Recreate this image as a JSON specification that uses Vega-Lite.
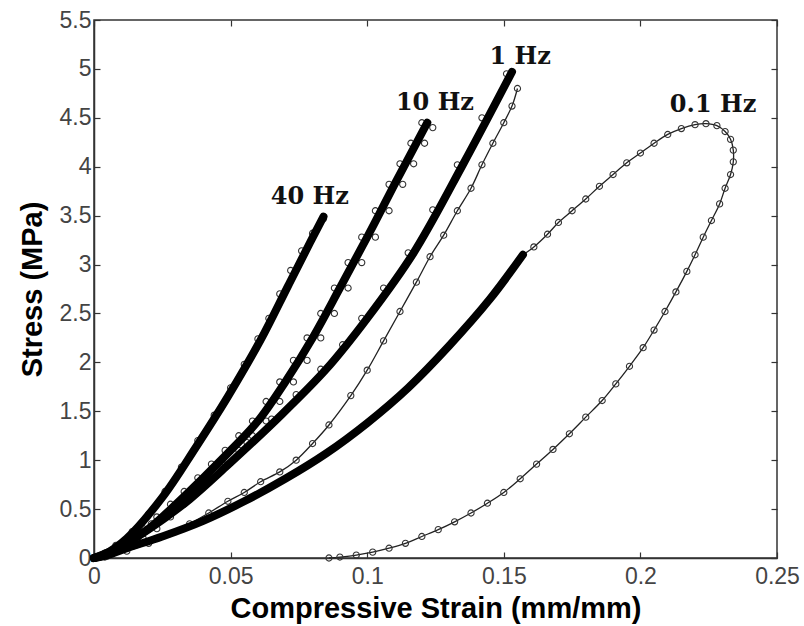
{
  "$schema": "https://vega.github.io/schema/vega-lite/v6.json",
  "width": 683,
  "height": 538,
  "autosize": {"type": "none"},
  "padding": {"left": 94, "top": 20, "right": 27, "bottom": 68},
  "background": "white",
  "config": {
    "view": {"stroke": "#333", "strokeWidth": 1.5},
    "axis": {
      "grid": false,
      "labelFlush": false,
      "domainColor": "#333",
      "domainWidth": 1.5,
      "tickColor": "#333",
      "tickWidth": 1.2,
      "labelFont": "Liberation Sans",
      "labelFontSize": 23,
      "labelColor": "#444",
      "titleFont": "Liberation Sans",
      "titleFontSize": 29,
      "titleFontWeight": "bold",
      "titleColor": "#000"
    }
  },
  "datasets": {
    "model": [
      {"series": "40", "i": 0, "strain": 0, "stress": 0},
      {"series": "40", "i": 1, "strain": 0.004, "stress": 0.04},
      {"series": "40", "i": 2, "strain": 0.012, "stress": 0.2},
      {"series": "40", "i": 3, "strain": 0.025, "stress": 0.62},
      {"series": "40", "i": 4, "strain": 0.037, "stress": 1.12},
      {"series": "40", "i": 5, "strain": 0.049, "stress": 1.65},
      {"series": "40", "i": 6, "strain": 0.061, "stress": 2.23},
      {"series": "40", "i": 7, "strain": 0.071, "stress": 2.78},
      {"series": "40", "i": 8, "strain": 0.079, "stress": 3.22},
      {"series": "40", "i": 9, "strain": 0.084, "stress": 3.49},
      {"series": "10", "i": 0, "strain": 0, "stress": 0},
      {"series": "10", "i": 1, "strain": 0.01, "stress": 0.12},
      {"series": "10", "i": 2, "strain": 0.02, "stress": 0.3},
      {"series": "10", "i": 3, "strain": 0.03, "stress": 0.55},
      {"series": "10", "i": 4, "strain": 0.04, "stress": 0.82},
      {"series": "10", "i": 5, "strain": 0.05, "stress": 1.1},
      {"series": "10", "i": 6, "strain": 0.06, "stress": 1.4},
      {"series": "10", "i": 7, "strain": 0.07, "stress": 1.8},
      {"series": "10", "i": 8, "strain": 0.08, "stress": 2.25},
      {"series": "10", "i": 9, "strain": 0.09, "stress": 2.76},
      {"series": "10", "i": 10, "strain": 0.1, "stress": 3.28},
      {"series": "10", "i": 11, "strain": 0.11, "stress": 3.82},
      {"series": "10", "i": 12, "strain": 0.122, "stress": 4.45},
      {"series": "1", "i": 0, "strain": 0, "stress": 0},
      {"series": "1", "i": 1, "strain": 0.004, "stress": 0.03},
      {"series": "1", "i": 2, "strain": 0.012, "stress": 0.15},
      {"series": "1", "i": 3, "strain": 0.023, "stress": 0.35},
      {"series": "1", "i": 4, "strain": 0.035, "stress": 0.6},
      {"series": "1", "i": 5, "strain": 0.049, "stress": 0.95},
      {"series": "1", "i": 6, "strain": 0.067, "stress": 1.42},
      {"series": "1", "i": 7, "strain": 0.085, "stress": 1.93},
      {"series": "1", "i": 8, "strain": 0.1, "stress": 2.45},
      {"series": "1", "i": 9, "strain": 0.117, "stress": 3.12},
      {"series": "1", "i": 10, "strain": 0.135, "stress": 4.02},
      {"series": "1", "i": 11, "strain": 0.153, "stress": 4.97},
      {"series": "0.1", "i": 0, "strain": 0, "stress": 0},
      {"series": "0.1", "i": 1, "strain": 0.005, "stress": 0.03},
      {"series": "0.1", "i": 2, "strain": 0.012, "stress": 0.1},
      {"series": "0.1", "i": 3, "strain": 0.025, "stress": 0.22},
      {"series": "0.1", "i": 4, "strain": 0.04, "stress": 0.38},
      {"series": "0.1", "i": 5, "strain": 0.055, "stress": 0.58},
      {"series": "0.1", "i": 6, "strain": 0.07, "stress": 0.81},
      {"series": "0.1", "i": 7, "strain": 0.085, "stress": 1.07},
      {"series": "0.1", "i": 8, "strain": 0.1, "stress": 1.38},
      {"series": "0.1", "i": 9, "strain": 0.115, "stress": 1.74},
      {"series": "0.1", "i": 10, "strain": 0.13, "stress": 2.17},
      {"series": "0.1", "i": 11, "strain": 0.145, "stress": 2.65},
      {"series": "0.1", "i": 12, "strain": 0.157, "stress": 3.1}
    ],
    "exp": [
      {"series": "40e", "i": 0, "strain": 0.002, "stress": 0.02},
      {"series": "40e", "i": 1, "strain": 0.008, "stress": 0.13},
      {"series": "40e", "i": 2, "strain": 0.014, "stress": 0.27},
      {"series": "40e", "i": 3, "strain": 0.02, "stress": 0.45},
      {"series": "40e", "i": 4, "strain": 0.026, "stress": 0.68},
      {"series": "40e", "i": 5, "strain": 0.032, "stress": 0.93},
      {"series": "40e", "i": 6, "strain": 0.038, "stress": 1.2},
      {"series": "40e", "i": 7, "strain": 0.044, "stress": 1.46},
      {"series": "40e", "i": 8, "strain": 0.05, "stress": 1.74},
      {"series": "40e", "i": 9, "strain": 0.055, "stress": 1.98},
      {"series": "40e", "i": 10, "strain": 0.06, "stress": 2.24},
      {"series": "40e", "i": 11, "strain": 0.064, "stress": 2.45},
      {"series": "40e", "i": 12, "strain": 0.068, "stress": 2.7},
      {"series": "40e", "i": 13, "strain": 0.072, "stress": 2.94},
      {"series": "40e", "i": 14, "strain": 0.076, "stress": 3.14},
      {"series": "40e", "i": 15, "strain": 0.08, "stress": 3.32},
      {"series": "40e", "i": 16, "strain": 0.084, "stress": 3.47},
      {"series": "10u", "i": 0, "strain": 0.004, "stress": 0.05},
      {"series": "10u", "i": 1, "strain": 0.008, "stress": 0.12},
      {"series": "10u", "i": 2, "strain": 0.013, "stress": 0.2},
      {"series": "10u", "i": 3, "strain": 0.018, "stress": 0.3},
      {"series": "10u", "i": 4, "strain": 0.023, "stress": 0.42},
      {"series": "10u", "i": 5, "strain": 0.028, "stress": 0.55},
      {"series": "10u", "i": 6, "strain": 0.033, "stress": 0.68},
      {"series": "10u", "i": 7, "strain": 0.038, "stress": 0.82},
      {"series": "10u", "i": 8, "strain": 0.043, "stress": 0.96},
      {"series": "10u", "i": 9, "strain": 0.048, "stress": 1.1},
      {"series": "10u", "i": 10, "strain": 0.053, "stress": 1.25},
      {"series": "10u", "i": 11, "strain": 0.058, "stress": 1.4},
      {"series": "10u", "i": 12, "strain": 0.063, "stress": 1.6},
      {"series": "10u", "i": 13, "strain": 0.068, "stress": 1.8},
      {"series": "10u", "i": 14, "strain": 0.073, "stress": 2.02},
      {"series": "10u", "i": 15, "strain": 0.078, "stress": 2.25},
      {"series": "10u", "i": 16, "strain": 0.083, "stress": 2.5},
      {"series": "10u", "i": 17, "strain": 0.088, "stress": 2.76},
      {"series": "10u", "i": 18, "strain": 0.093, "stress": 3.02},
      {"series": "10u", "i": 19, "strain": 0.098, "stress": 3.28},
      {"series": "10u", "i": 20, "strain": 0.103, "stress": 3.55},
      {"series": "10u", "i": 21, "strain": 0.108, "stress": 3.82},
      {"series": "10u", "i": 22, "strain": 0.112, "stress": 4.03},
      {"series": "10u", "i": 23, "strain": 0.116, "stress": 4.24},
      {"series": "10u", "i": 24, "strain": 0.12, "stress": 4.45},
      {"series": "10d", "i": 0, "strain": 0.124, "stress": 4.4},
      {"series": "10d", "i": 1, "strain": 0.121, "stress": 4.24},
      {"series": "10d", "i": 2, "strain": 0.117, "stress": 4.03},
      {"series": "10d", "i": 3, "strain": 0.113, "stress": 3.82},
      {"series": "10d", "i": 4, "strain": 0.108, "stress": 3.55},
      {"series": "10d", "i": 5, "strain": 0.103, "stress": 3.28},
      {"series": "10d", "i": 6, "strain": 0.098, "stress": 3.02},
      {"series": "10d", "i": 7, "strain": 0.093, "stress": 2.76},
      {"series": "10d", "i": 8, "strain": 0.088, "stress": 2.5},
      {"series": "10d", "i": 9, "strain": 0.083, "stress": 2.25},
      {"series": "10d", "i": 10, "strain": 0.078, "stress": 2.02},
      {"series": "10d", "i": 11, "strain": 0.073, "stress": 1.8},
      {"series": "10d", "i": 12, "strain": 0.068, "stress": 1.6},
      {"series": "10d", "i": 13, "strain": 0.063, "stress": 1.4},
      {"series": "10d", "i": 14, "strain": 0.058, "stress": 1.25},
      {"series": "10d", "i": 15, "strain": 0.053, "stress": 1.1},
      {"series": "10d", "i": 16, "strain": 0.048, "stress": 0.96},
      {"series": "10d", "i": 17, "strain": 0.043, "stress": 0.82},
      {"series": "10d", "i": 18, "strain": 0.038, "stress": 0.68},
      {"series": "10d", "i": 19, "strain": 0.033, "stress": 0.55},
      {"series": "10d", "i": 20, "strain": 0.028, "stress": 0.42},
      {"series": "10d", "i": 21, "strain": 0.023, "stress": 0.3},
      {"series": "10d", "i": 22, "strain": 0.018, "stress": 0.2},
      {"series": "10d", "i": 23, "strain": 0.012, "stress": 0.1},
      {"series": "10d", "i": 24, "strain": 0.005, "stress": 0.02},
      {"series": "1u", "i": 0, "strain": 0.01, "stress": 0.15},
      {"series": "1u", "i": 1, "strain": 0.021, "stress": 0.35},
      {"series": "1u", "i": 2, "strain": 0.033, "stress": 0.6},
      {"series": "1u", "i": 3, "strain": 0.047, "stress": 0.95},
      {"series": "1u", "i": 4, "strain": 0.056, "stress": 1.18},
      {"series": "1u", "i": 5, "strain": 0.065, "stress": 1.42},
      {"series": "1u", "i": 6, "strain": 0.074, "stress": 1.67},
      {"series": "1u", "i": 7, "strain": 0.083, "stress": 1.93},
      {"series": "1u", "i": 8, "strain": 0.091, "stress": 2.18},
      {"series": "1u", "i": 9, "strain": 0.098, "stress": 2.45},
      {"series": "1u", "i": 10, "strain": 0.106, "stress": 2.76},
      {"series": "1u", "i": 11, "strain": 0.115, "stress": 3.12},
      {"series": "1u", "i": 12, "strain": 0.124, "stress": 3.56},
      {"series": "1u", "i": 13, "strain": 0.133, "stress": 4.02},
      {"series": "1u", "i": 14, "strain": 0.142, "stress": 4.5},
      {"series": "1u", "i": 15, "strain": 0.151, "stress": 4.95},
      {"series": "1d", "i": 0, "strain": 0.155, "stress": 4.8},
      {"series": "1d", "i": 1, "strain": 0.153, "stress": 4.62},
      {"series": "1d", "i": 2, "strain": 0.15, "stress": 4.45},
      {"series": "1d", "i": 3, "strain": 0.146, "stress": 4.24},
      {"series": "1d", "i": 4, "strain": 0.142, "stress": 4.02},
      {"series": "1d", "i": 5, "strain": 0.138, "stress": 3.78},
      {"series": "1d", "i": 6, "strain": 0.133, "stress": 3.55},
      {"series": "1d", "i": 7, "strain": 0.128, "stress": 3.3},
      {"series": "1d", "i": 8, "strain": 0.123, "stress": 3.08},
      {"series": "1d", "i": 9, "strain": 0.118, "stress": 2.82},
      {"series": "1d", "i": 10, "strain": 0.112, "stress": 2.52},
      {"series": "1d", "i": 11, "strain": 0.106, "stress": 2.22},
      {"series": "1d", "i": 12, "strain": 0.1, "stress": 1.92},
      {"series": "1d", "i": 13, "strain": 0.094, "stress": 1.66},
      {"series": "1d", "i": 14, "strain": 0.086, "stress": 1.36},
      {"series": "1d", "i": 15, "strain": 0.08, "stress": 1.17},
      {"series": "1d", "i": 16, "strain": 0.074, "stress": 1.0},
      {"series": "1d", "i": 17, "strain": 0.068, "stress": 0.88},
      {"series": "1d", "i": 18, "strain": 0.061, "stress": 0.78},
      {"series": "1d", "i": 19, "strain": 0.055, "stress": 0.67},
      {"series": "1d", "i": 20, "strain": 0.049, "stress": 0.58},
      {"series": "1d", "i": 21, "strain": 0.042, "stress": 0.46},
      {"series": "1d", "i": 22, "strain": 0.035, "stress": 0.35},
      {"series": "1d", "i": 23, "strain": 0.028, "stress": 0.25},
      {"series": "1d", "i": 24, "strain": 0.02, "stress": 0.15},
      {"series": "1d", "i": 25, "strain": 0.012, "stress": 0.07},
      {"series": "1d", "i": 26, "strain": 0.004, "stress": 0.01},
      {"series": "0.1e", "i": 0, "strain": 0.157, "stress": 3.1},
      {"series": "0.1e", "i": 1, "strain": 0.161, "stress": 3.18},
      {"series": "0.1e", "i": 2, "strain": 0.166, "stress": 3.31},
      {"series": "0.1e", "i": 3, "strain": 0.17, "stress": 3.43},
      {"series": "0.1e", "i": 4, "strain": 0.175, "stress": 3.55},
      {"series": "0.1e", "i": 5, "strain": 0.18, "stress": 3.67},
      {"series": "0.1e", "i": 6, "strain": 0.185, "stress": 3.8},
      {"series": "0.1e", "i": 7, "strain": 0.19, "stress": 3.92},
      {"series": "0.1e", "i": 8, "strain": 0.195, "stress": 4.04},
      {"series": "0.1e", "i": 9, "strain": 0.2, "stress": 4.14},
      {"series": "0.1e", "i": 10, "strain": 0.205, "stress": 4.24},
      {"series": "0.1e", "i": 11, "strain": 0.21, "stress": 4.33},
      {"series": "0.1e", "i": 12, "strain": 0.215, "stress": 4.39},
      {"series": "0.1e", "i": 13, "strain": 0.22, "stress": 4.43},
      {"series": "0.1e", "i": 14, "strain": 0.224, "stress": 4.44},
      {"series": "0.1e", "i": 15, "strain": 0.228, "stress": 4.42},
      {"series": "0.1e", "i": 16, "strain": 0.231, "stress": 4.36},
      {"series": "0.1e", "i": 17, "strain": 0.233, "stress": 4.28},
      {"series": "0.1e", "i": 18, "strain": 0.234, "stress": 4.17},
      {"series": "0.1e", "i": 19, "strain": 0.234, "stress": 4.05},
      {"series": "0.1e", "i": 20, "strain": 0.233, "stress": 3.92},
      {"series": "0.1e", "i": 21, "strain": 0.231, "stress": 3.78},
      {"series": "0.1e", "i": 22, "strain": 0.229, "stress": 3.62},
      {"series": "0.1e", "i": 23, "strain": 0.226, "stress": 3.45},
      {"series": "0.1e", "i": 24, "strain": 0.223, "stress": 3.28},
      {"series": "0.1e", "i": 25, "strain": 0.22, "stress": 3.1},
      {"series": "0.1e", "i": 26, "strain": 0.217, "stress": 2.93},
      {"series": "0.1e", "i": 27, "strain": 0.213, "stress": 2.72},
      {"series": "0.1e", "i": 28, "strain": 0.209, "stress": 2.52},
      {"series": "0.1e", "i": 29, "strain": 0.205, "stress": 2.33},
      {"series": "0.1e", "i": 30, "strain": 0.201, "stress": 2.15},
      {"series": "0.1e", "i": 31, "strain": 0.196, "stress": 1.96},
      {"series": "0.1e", "i": 32, "strain": 0.191, "stress": 1.78},
      {"series": "0.1e", "i": 33, "strain": 0.186, "stress": 1.61},
      {"series": "0.1e", "i": 34, "strain": 0.18, "stress": 1.44},
      {"series": "0.1e", "i": 35, "strain": 0.174, "stress": 1.27},
      {"series": "0.1e", "i": 36, "strain": 0.168, "stress": 1.11},
      {"series": "0.1e", "i": 37, "strain": 0.162, "stress": 0.96},
      {"series": "0.1e", "i": 38, "strain": 0.156, "stress": 0.81},
      {"series": "0.1e", "i": 39, "strain": 0.15, "stress": 0.67},
      {"series": "0.1e", "i": 40, "strain": 0.144, "stress": 0.56},
      {"series": "0.1e", "i": 41, "strain": 0.138, "stress": 0.46},
      {"series": "0.1e", "i": 42, "strain": 0.132, "stress": 0.37},
      {"series": "0.1e", "i": 43, "strain": 0.126, "stress": 0.29},
      {"series": "0.1e", "i": 44, "strain": 0.12, "stress": 0.22},
      {"series": "0.1e", "i": 45, "strain": 0.114, "stress": 0.15},
      {"series": "0.1e", "i": 46, "strain": 0.108, "stress": 0.1},
      {"series": "0.1e", "i": 47, "strain": 0.102, "stress": 0.06},
      {"series": "0.1e", "i": 48, "strain": 0.096, "stress": 0.03},
      {"series": "0.1e", "i": 49, "strain": 0.09, "stress": 0.01},
      {"series": "0.1e", "i": 50, "strain": 0.086, "stress": 0}
    ],
    "labels": [
      {"label": "40 Hz", "strain": 0.079, "stress": 3.69},
      {"label": "10 Hz", "strain": 0.1248, "stress": 4.65},
      {"label": "1 Hz", "strain": 0.156, "stress": 5.12},
      {"label": "0.1 Hz", "strain": 0.2266, "stress": 4.63}
    ]
  },
  "layer": [
    {
      "data": {"name": "exp"},
      "transform": [{"filter": "datum.series == '1d' || datum.series == '0.1e'"}],
      "mark": {"type": "line", "strokeWidth": 1.3, "color": "#222", "interpolate": "catmull-rom"},
      "encoding": {
        "x": {"field": "strain", "type": "quantitative", "scale": {"domain": [0, 0.25], "nice": false},
              "axis": {"orient": "top", "values": [0, 0.05, 0.1, 0.15, 0.2, 0.25], "labels": false, "title": null, "tickSize": -6, "domain": false}},
        "y": {"field": "stress", "type": "quantitative", "scale": {"domain": [0, 5.5], "nice": false},
              "axis": {"orient": "right", "values": [0, 0.5, 1, 1.5, 2, 2.5, 3, 3.5, 4, 4.5, 5, 5.5], "labels": false, "title": null, "tickSize": -6, "domain": false}},
        "detail": {"field": "series"},
        "order": {"field": "i", "type": "quantitative"}
      }
    },
    {
      "data": {"name": "exp"},
      "mark": {"type": "point", "shape": "circle", "size": 38, "filled": false, "color": "#333", "strokeWidth": 1.1, "opacity": 1},
      "encoding": {
        "x": {"field": "strain", "type": "quantitative", "axis": null},
        "y": {"field": "stress", "type": "quantitative", "axis": null}
      }
    },
    {
      "data": {"name": "model"},
      "mark": {"type": "line", "strokeWidth": 8, "color": "#000", "strokeCap": "round", "strokeJoin": "round", "interpolate": "catmull-rom"},
      "encoding": {
        "x": {"field": "strain", "type": "quantitative",
              "axis": {"orient": "bottom", "values": [0, 0.05, 0.1, 0.15, 0.2, 0.25], "format": "~g", "title": "Compressive Strain (mm/mm)", "tickSize": -6, "labelPadding": 13, "titlePadding": 6}},
        "y": {"field": "stress", "type": "quantitative",
              "axis": {"orient": "left", "values": [0, 0.5, 1, 1.5, 2, 2.5, 3, 3.5, 4, 4.5, 5, 5.5], "format": "~g", "title": "Stress (MPa)", "tickSize": -6, "labelPadding": 9, "titlePadding": 12}},
        "detail": {"field": "series"},
        "order": {"field": "i", "type": "quantitative"}
      }
    },
    {
      "data": {"name": "labels"},
      "mark": {"type": "text", "font": "DejaVu Serif", "fontWeight": "bold", "fontSize": 24, "color": "#111", "align": "center", "baseline": "middle"},
      "encoding": {
        "x": {"field": "strain", "type": "quantitative", "axis": null},
        "y": {"field": "stress", "type": "quantitative", "axis": null},
        "text": {"field": "label"}
      }
    }
  ],
  "resolve": {"axis": {"x": "independent", "y": "independent"}}
}
